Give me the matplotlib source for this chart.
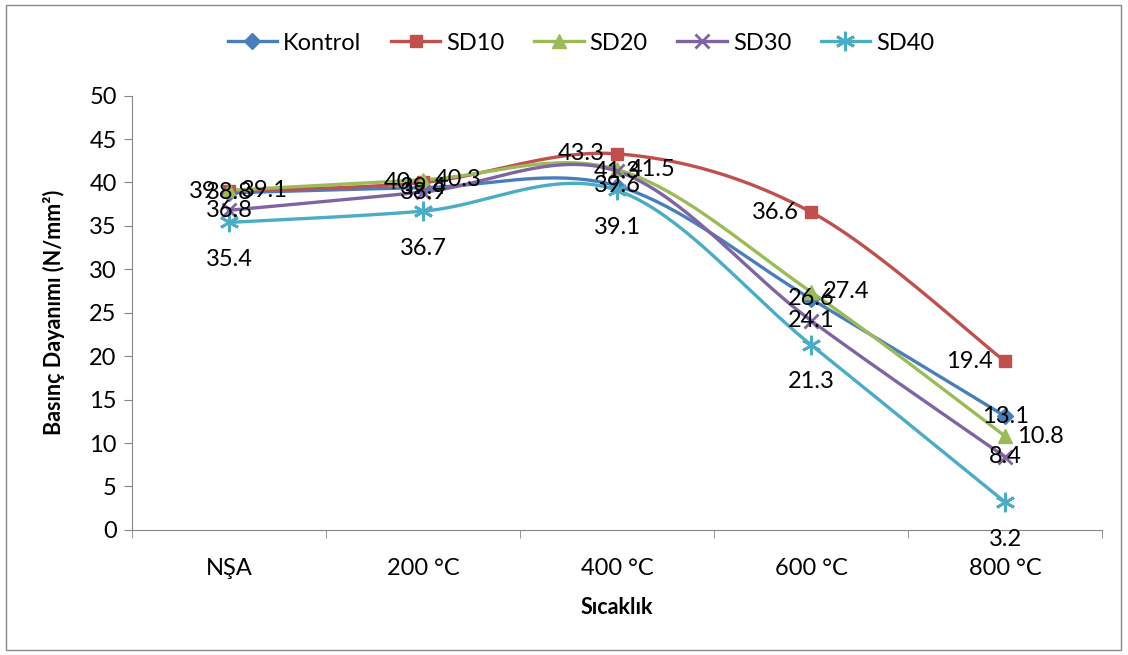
import numpy as np
import matplotlib.pyplot as plt
from matplotlib.patches import Rectangle

plt.rcParams['font.family'] = ['Lato', 'DejaVu Sans']

kategoriler = ['NŞA', '200 °C', '400 °C', '600 °C', '800 °C']
kontrol = [38.8, 39.4, 39.6, 26.6, 13.1]
sd10 = [39.0, 40.0, 43.3, 36.6, 19.4]
sd20 = [39.1, 40.3, 41.5, 27.4, 10.8]
sd30 = [36.8, 38.9, 41.3, 24.1, 8.4]
sd40 = [35.4, 36.7, 39.1, 21.3, 3.2]

seriler = [
    ('Kontrol', kontrol, '#4A7EBB', 'D', 8, 'center'),
    ('SD10', sd10, '#C0504D', 's', 9, 'left'),
    ('SD20', sd20, '#9BBB59', '^', 10, 'right'),
    ('SD30', sd30, '#8064A2', 'x', 10, 'center'),
    ('SD40', sd40, '#4BACC6', (6, 2, 0), 14, 'below'),
]


def smooth(x, y, n=40):
    # excel tarzi bezier yumusatma
    x = np.asarray(x, float)
    y = np.asarray(y, float)
    px, py = [], []
    for i in range(len(x) - 1):
        i0 = max(i - 1, 0)
        i3 = min(i + 2, len(x) - 1)
        c1x = x[i] + (x[i + 1] - x[i0]) / 6
        c1y = y[i] + (y[i + 1] - y[i0]) / 6
        c2x = x[i + 1] - (x[i3] - x[i]) / 6
        c2y = y[i + 1] - (y[i3] - y[i]) / 6
        t = np.linspace(0, 1, n)
        a, b, c, d = (1 - t) ** 3, 3 * t * (1 - t) ** 2, 3 * t ** 2 * (1 - t), t ** 3
        px.extend(a * x[i] + b * c1x + c * c2x + d * x[i + 1])
        py.extend(a * y[i] + b * c1y + c * c2y + d * y[i + 1])
    return px, py


fig = plt.figure(figsize=(11.28, 6.55), dpi=100)
ax = fig.add_axes([0.117, 0.191, 0.860, 0.663])
fig.patches.append(Rectangle((0.005, 0.008), 0.989, 0.985, transform=fig.transFigure,
                             fill=False, edgecolor='#868686', linewidth=1))

x = np.arange(len(kategoriler))
for ad, vals, renk, mk, ms, konum in seriler:
    sx, sy = smooth(x, vals)
    ax.plot(sx, sy, color=renk, linewidth=2.4, zorder=2)
    mew = 2 if mk in ('x', (6, 2, 0)) else 1
    ax.plot(x, vals, linestyle='none', marker=mk, markersize=ms, color=renk,
            markeredgewidth=mew, zorder=3)
    ax.plot([], [], color=renk, linewidth=2.4, marker=mk, markersize=ms,
            markeredgewidth=mew, label=ad)

for ad, vals, renk, mk, ms, konum in seriler:
    for xi, v in zip(x, vals):
        if konum == 'left':
            off, ha = (-12, 0), 'right'
        elif konum == 'right':
            off, ha = (12, 0), 'left'
        elif konum == 'below':
            off, ha = (0, -37), 'center'
        else:
            off, ha = (0, 0), 'center'
        ax.annotate(f'{v:g}', (xi, v), xytext=off, textcoords='offset pixels',
                    ha=ha, va='center', fontsize=17, color='black', zorder=4)

ax.set_xlim(-0.5, 4.5)
ax.set_ylim(0, 50)
ax.set_yticks(np.arange(0, 51, 5))
ax.set_xticks(x)
ax.set_xticklabels(kategoriler)
ax.set_xticks(np.arange(-0.5, 5, 1), minor=True)
ax.tick_params(axis='x', which='major', length=0, pad=20, labelsize=17)
ax.tick_params(axis='x', which='minor', length=6, color='#868686', direction='out')
ax.tick_params(axis='y', length=6, color='#868686', labelsize=17, pad=5)
for s in ['top', 'right']:
    ax.spines[s].set_visible(False)
for s in ['left', 'bottom']:
    ax.spines[s].set_color('#868686')

ax.set_xlabel('Sıcaklık', fontsize=15.5, fontweight='bold', labelpad=13)
ax.set_ylabel('Basınç Dayanımı (N/mm²)', fontsize=15.5, fontweight='bold', labelpad=17)

ax.legend(loc='center', bbox_to_anchor=(0.515, 0.934), bbox_transform=fig.transFigure,
          ncol=5, frameon=False, fontsize=17, handlelength=2.1, columnspacing=1.25,
          handletextpad=0.25)

fig.savefig('out.png', dpi=100)
